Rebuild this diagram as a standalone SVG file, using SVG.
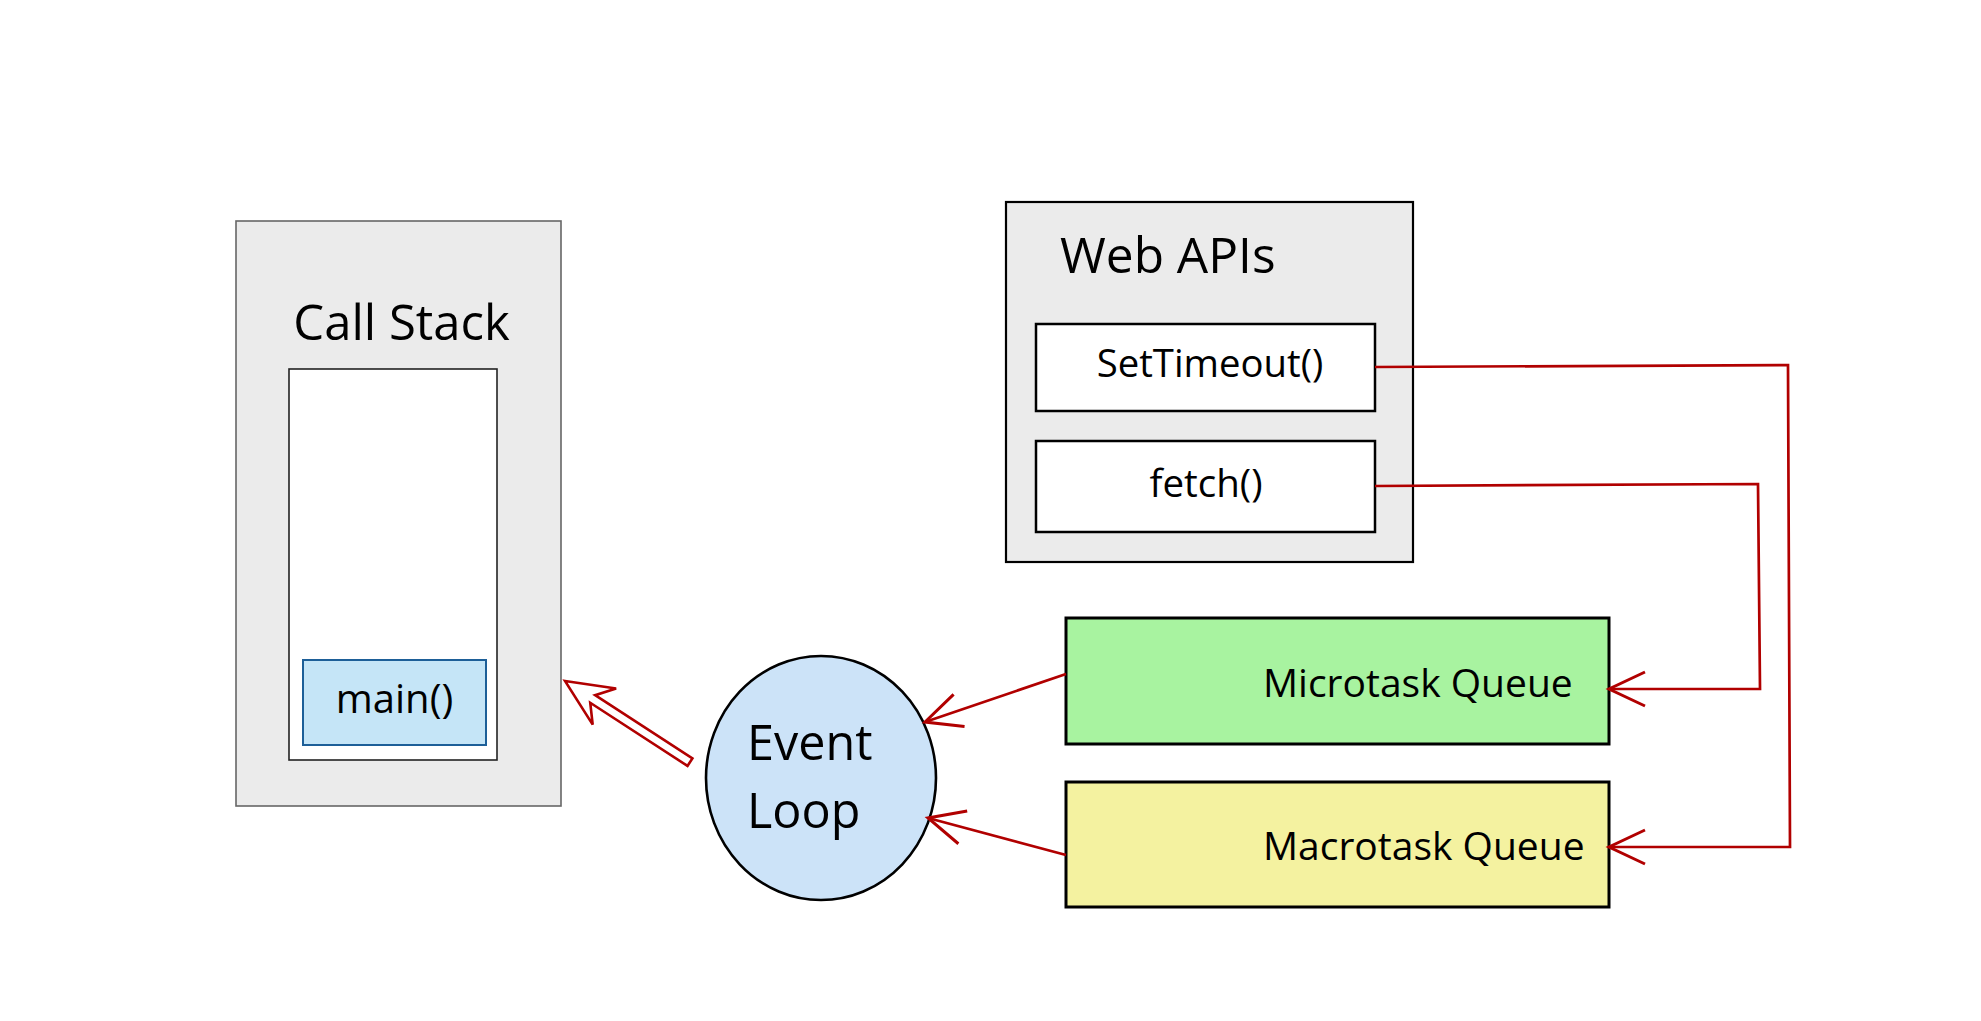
<svg xmlns="http://www.w3.org/2000/svg" width="1981" height="1021" viewBox="0 0 1981 1021">
<style>
text{font-family:"Open Sans","Noto Sans","DejaVu Sans",sans-serif;fill:#000}
.panel{fill:#ebebeb}
.box{fill:#fff;stroke:#000;stroke-width:2.5}
.conn{fill:none;stroke:#b10000;stroke-width:2.7;stroke-linejoin:miter}
</style>
<defs>
<marker id="open" markerUnits="userSpaceOnUse" orient="auto" refX="0" refY="0" markerWidth="60" markerHeight="60" overflow="visible">
<path d="M -36 -17 L 0 0 L -36 17" fill="none" stroke="#b10000" stroke-width="3"/>
</marker>
</defs>
<rect width="1981" height="1021" fill="#fff"/>
<g id="call-stack">
<rect class="panel" x="236" y="221" width="325" height="585" stroke="#666" stroke-width="1.6"/>
<text x="401.5" y="340" font-size="49" text-anchor="middle">Call Stack</text>
<rect x="289" y="369" width="208" height="391" fill="#fff" stroke="#222" stroke-width="1.6"/>
</g>
<g id="main">
<rect x="303" y="660" width="183" height="85" fill="#c5e5f7" stroke="#1d5f98" stroke-width="2"/>
<text x="394.5" y="713" font-size="40" text-anchor="middle">main()</text>
</g>
<g id="web-apis">
<rect class="panel" x="1006" y="202" width="407" height="360" stroke="#000" stroke-width="2.2"/>
<text x="1060" y="273" font-size="49.6">Web APIs</text>
</g>
<g id="settimeout">
<rect class="box" x="1036" y="324" width="339" height="87"/>
<text x="1210" y="377" font-size="38.3" text-anchor="middle">SetTimeout()</text>
</g>
<g id="fetch">
<rect class="box" x="1036" y="441" width="339" height="91"/>
<text x="1206" y="497" font-size="38.5" text-anchor="middle">fetch()</text>
</g>
<g id="event-loop">
<ellipse cx="821" cy="778" rx="115" ry="122" fill="#cce3f8" stroke="#000" stroke-width="2.6"/>
<text x="747" y="760" font-size="48.5">Event</text>
<text x="747" y="828" font-size="48.5">Loop</text>
</g>
<g id="microtask-queue">
<rect x="1066" y="618" width="543" height="126" fill="#a8f3a0" stroke="#000" stroke-width="3"/>
<text x="1263" y="697" font-size="39">Microtask Queue</text>
</g>
<g id="macrotask-queue">
<rect x="1066" y="782" width="543" height="125" fill="#f4f2a0" stroke="#000" stroke-width="3"/>
<text x="1263" y="860" font-size="39">Macrotask Queue</text>
</g>
<g id="connectors">
<path class="conn" d="M1375 367 L1788 365 L1790 847 L1609 847" marker-end="url(#open)"/>
<path class="conn" d="M1375 486 L1758 484 L1760 689 L1609 689" marker-end="url(#open)"/>
<path class="conn" d="M1066 674 L925 722" marker-end="url(#open)"/>
<path class="conn" d="M1066 855 L928 818" marker-end="url(#open)"/>
<path transform="translate(565 681) rotate(213)" d="M0 0 L-47 21.5 L-33 4.5 L-149 4.5 L-149 -4.5 L-33 -4.5 L-47 -21.5 Z" fill="#fff" stroke="#b10000" stroke-width="2.6" stroke-linejoin="miter"/>
</g>
</svg>
